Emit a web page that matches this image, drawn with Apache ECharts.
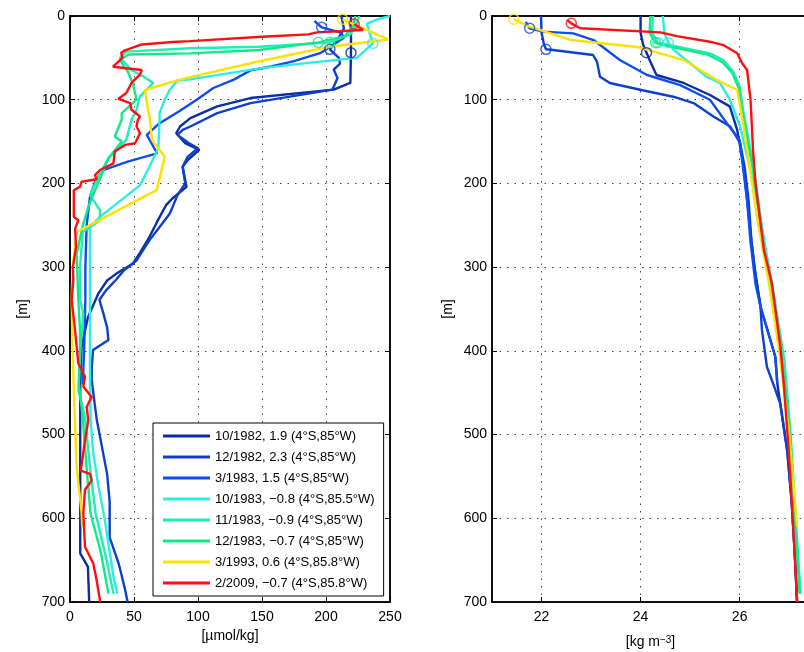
<!DOCTYPE html>
<html>
<head>
<meta charset="utf-8">
<script src="https://cdn.jsdelivr.net/npm/echarts@6/dist/echarts.min.js"></script>
<style>
html, body { margin: 0; padding: 0; background: #fff; }
#chart { width: 804px; height: 652px; }
</style>
</head>
<body>
<div id="chart"></div>
<script>
// legend names, one per cast
const names = [
    '10/1982, 1.9 (4°S,85°W)',
    '12/1982, 2.3 (4°S,85°W)',
    '3/1983, 1.5 (4°S,85°W)',
    '10/1983, −0.8 (4°S,85.5°W)',
    '11/1983, −0.9 (4°S,85°W)',
    '12/1983, −0.7 (4°S,85°W)',
    '3/1993, 0.6 (4°S,85.8°W)',
    '2/2009, −0.7 (4°S,85.8°W)'
]
const colors = ['#0a2ea6', '#0d3fcc', '#0f4df0', '#2aeee6', '#20eeb8', '#12e888', '#ffe100', '#ff1010']

// oxygen profiles [umol/kg, depth m]
const oxyOct82 = [[219.5,0],[219.5,20],[219.5,44],[219,80],[206,88],[141,98],[115,108],[94,122],[86,132],[83,140],[90,152],[101,160],[92,172],[88,180],[91,204],[80,218],[75,226],[68,246],[62,264],[55,282],[49,296],[36,308],[29,316],[22,332],[14,360],[9,395],[8,440],[8,500],[8,560],[8,610],[8,642],[14,658],[15,700]]
const oxyDec82 = [[212,0],[214,15],[210,26],[203,40],[210,50],[211,57],[206,64],[209,74],[205,88],[141,104],[115,116],[94,132],[88,136],[84,142],[93,152],[100,158],[92,168],[88,180],[90,200],[84,214],[78,236],[70,252],[62,268],[52,292],[42,304],[36,315],[28,328],[23,339],[26,355],[29,372],[30,387],[18,399],[17,420],[17,435],[19,460],[21,483],[25,515],[29,547],[31,580],[31,623],[36,645],[38,654],[40,666],[43,685],[45,700]]
const oxyMar83 = [[191,6],[196.6,13.5],[212,20],[214,26],[206,34],[196,44],[175,54],[158,60],[141,65],[128,76],[112,86],[99,100],[85,114],[70,128],[60,142],[63,150],[68,164],[45,174],[26,184],[20,196],[15.6,216],[13,250],[12,300],[12,339],[11,400],[10,440]]
const oxyOct83 = [[250,0],[240,4],[232,9],[234,20],[236.5,32.7],[230,42],[224,50],[186,56],[148,62.5],[94,75.7],[84,77],[78,88],[74,100],[70,116],[70,124],[69,158],[62,180],[54.7,202],[40,220],[23.4,240],[15.6,252],[15.6,300],[15.6,339],[15.6,435],[16,480],[18,520],[22,560],[27,600],[31,640],[34,670],[37,690]]
const oxyNov83 = [[226,0],[224,10],[219,22],[203,31.5],[148,36.7],[94,38.6],[44,42.6],[39,50],[44,58],[48,64.5],[57,72],[65,80],[54.7,96],[52,112],[48,124],[44,148],[30,170],[23.4,188],[15.6,214],[23.4,232],[23.4,244],[10,258],[7.8,300],[7.8,339],[10.4,355],[8,400],[6.5,447],[11.7,479],[15.6,539],[20,594],[28.6,650],[34,690]]
const oxyDec83 = [[223,0],[221,12],[215,24],[194,31.5],[148,40.6],[94,44.6],[46,46],[39,52],[42,60],[45,66],[49,80],[52,100],[40.4,116],[40.4,124],[35,144],[40.4,150],[30,170],[20.8,204],[15,225],[10.4,248],[5.2,284],[6.5,339],[8,380],[7,440],[10,480],[13,540],[16,594],[24,640],[30,690]]
const oxyMar93 = [[213,4],[248.6,28],[203,36.7],[146,54.6],[94,73],[84.6,76.5],[58.6,88.4],[61,112],[62.5,124],[64,148],[74,168],[67.7,208],[5.2,258],[4,276],[2,300],[1.3,339],[2,400],[3.5,470],[5.2,539],[9.1,594],[9.5,610]]
const oxyFeb09 = [[222,9.6],[229,16.7],[193,19.5],[186,22],[150,24.7],[94,30],[80.5,31],[56,34],[43,41],[40,44],[41,50],[33.6,60.6],[56,64.5],[54.7,70],[48,80],[44,92],[37.7,99],[47,104],[48,112],[54.7,120],[53,124],[52,132],[54.7,140],[50.8,152],[43,154],[35,162],[33.9,176],[23.4,184],[19.5,190],[20.8,195],[9,198],[7.8,204],[3,208],[3,240],[6.5,244],[4,254],[4.7,276],[2.3,300],[2.6,315],[1.3,339],[3.9,375],[6.5,415],[11.7,431],[10.4,443],[16.9,455],[13,467],[14.3,483],[11.7,507],[9.6,531],[8.3,543],[15.6,547],[16.9,555],[11.7,566],[10.4,594],[11.7,634],[18.2,654],[20.8,674],[23.6,700]]

// density profiles [kg m-3, depth m]
const sigOct82 = [[24.0,0],[24.0,20],[24.05,34],[24.12,43.8],[24.2,55],[24.32,70.5],[24.87,80],[25.4,94.4],[25.8,108],[25.95,136],[26.08,180],[26.15,220],[26.22,260],[26.3,300],[26.42,347],[26.52,367],[26.72,407],[26.76,439],[26.82,463],[26.96,519],[27.05,580],[27.12,650],[27.16,700]]
const sigDec82 = [[21.99,0],[22.0,20],[22.05,34],[22.09,39.8],[22.23,40.6],[23.04,46.6],[23.12,54.6],[23.18,72.5],[23.38,80],[24.06,89],[24.66,96.4],[25.07,104],[25.47,120],[25.81,132],[26.01,152],[26.1,180],[26.18,220],[26.24,270],[26.32,310],[26.42,347],[26.45,375],[26.55,419],[26.65,435],[26.82,463],[26.96,519],[27.05,580],[27.12,650],[27.16,700]]
const sigMar83 = [[21.68,7],[21.76,14.7],[22.03,18.7],[22.64,20.7],[23.05,28.7],[23.58,52.6],[24.13,70.5],[24.8,82.5],[25.4,100],[25.74,128],[26.0,148],[26.15,220],[26.22,270],[26.32,320],[26.42,347],[26.52,367],[26.72,407],[26.76,439]]
const sigOct83 = [[24.45,0],[24.48,20.7],[24.56,32],[24.67,40.6],[25.0,56.5],[25.33,72.5],[25.6,80],[25.8,100],[26.01,132],[26.2,180],[26.35,220],[26.5,270],[26.65,320],[26.85,400],[27.0,500],[27.1,600],[27.22,690]]
const sigNov83 = [[24.25,0],[24.23,20],[24.35,32],[24.6,35],[25.4,44.6],[25.67,52.6],[25.87,66.5],[26.0,84.5],[26.08,116],[26.28,180],[26.42,240],[26.52,280],[26.68,330],[26.9,410],[27.03,500],[27.13,600],[27.23,690]]
const sigDec83 = [[24.2,0],[24.18,20],[24.3,32],[24.55,36],[25.35,46],[25.65,55],[25.85,68],[25.98,86],[26.06,120],[26.26,180],[26.4,240],[26.5,280],[26.66,330],[26.88,420],[27.02,500],[27.12,600],[27.21,690]]
const sigMar93 = [[21.44,4],[21.76,12.7],[22.6,28.7],[23.97,37.4],[24.87,52.6],[25.54,76.5],[25.95,88.4],[26.08,132],[26.2,180],[26.3,220],[26.35,240],[26.59,319],[26.8,400],[27.0,500],[27.16,610]]
const sigFeb09 = [[22.52,5],[22.6,8.8],[22.78,14.7],[24.4,19.5],[24.73,24],[25.4,30.7],[25.67,34.7],[25.95,44.6],[26.05,56.5],[26.15,64.5],[26.22,100],[26.27,160],[26.32,200],[26.49,280],[26.65,319],[26.82,394],[26.89,439],[26.99,519],[27.09,618],[27.16,700]]

// mixed layer markers (circles)
const oxyMld = [[219.5,43.8],[203,39.8],[196.6,13.5],[236.5,32.7],[203,31.5],[194,31.5],[213,4],[222,9.6]]
const sigMld = [[24.12,43.8],[22.09,39.8],[21.76,14.7],[24.56,32],[24.35,32],[24.3,32],[21.44,4],[22.6,8.8]]

const sigTicks = [22, 24, 26]

const oxyData = [oxyOct82, oxyDec82, oxyMar83, oxyOct83, oxyNov83, oxyDec83, oxyMar93, oxyFeb09]
const sigData = [sigOct82, sigDec82, sigMar83, sigOct83, sigNov83, sigDec83, sigMar93, sigFeb09]

const font = 'Liberation Sans, Arial, Helvetica, sans-serif'
const txt = { fontFamily: font, fontSize: 14, color: '#000' }
const axLine = () => ({ show: true, onZero: false, lineStyle: { color: '#000', width: 1.5 } })
const tickIn = () => ({ show: true, inside: true, length: 5, lineStyle: { color: '#000', width: 1 } })
const dots = () => ({ show: true, lineStyle: { color: '#444', type: [1.5, 6], width: 1 } })

let myCharts = echarts.init(document.getElementById('chart'))

const series = []
names.forEach((n, i) => {
    series.push({
        name: n, type: 'line', xAxisIndex: 0, yAxisIndex: 0,
        data: oxyData[i], showSymbol: false, symbol: 'none', z: 3 + i,
        lineStyle: { color: colors[i], width: 2.4 },
        itemStyle: { color: colors[i] }
    })
    series.push({
        name: n, type: 'line', xAxisIndex: 2, yAxisIndex: 2,
        data: sigData[i], showSymbol: false, symbol: 'none', z: 3 + i,
        lineStyle: { color: colors[i], width: 2.4 },
        itemStyle: { color: colors[i] }
    })
})
names.forEach((n, i) => {
    series.push({
        name: n + ' mld', type: 'scatter', xAxisIndex: 0, yAxisIndex: 0,
        data: [oxyMld[i]], symbol: 'circle', symbolSize: 10, z: 20,
        itemStyle: { color: 'rgba(0,0,0,0)', borderColor: colors[i], borderWidth: 1.5 }
    })
    series.push({
        name: n + ' mld', type: 'scatter', xAxisIndex: 2, yAxisIndex: 2,
        data: [sigMld[i]], symbol: 'circle', symbolSize: 10, z: 20,
        itemStyle: { color: 'rgba(0,0,0,0)', borderColor: colors[i], borderWidth: 1.5 }
    })
})

const option = {
    animation: false,
    backgroundColor: '#fff',
    grid: [
        { left: 70, right: 414, top: 16, bottom: 50, outerBoundsMode: 'none',
          show: true, borderColor: '#000', borderWidth: 1.5, backgroundColor: 'rgba(0,0,0,0)' },
        { left: 492, right: -5, top: 16, bottom: 50, outerBoundsMode: 'none',
          show: true, borderColor: '#000', borderWidth: 1.5, backgroundColor: 'rgba(0,0,0,0)' }
    ],
    legend: {
        data: names,
        orient: 'vertical',
        left: 153,
        top: 423,
        padding: [6, 9, 6, 10],
        icon: 'rect',
        itemWidth: 47,
        itemHeight: 3,
        itemGap: 7,
        backgroundColor: '#fff',
        borderColor: '#000',
        borderWidth: 1,
        textStyle: { fontFamily: font, fontSize: 13, color: '#000', lineHeight: 14 },
        z: 30
    },
    xAxis: [
        {
            gridIndex: 0, type: 'value', position: 'bottom', min: 0, max: 250, interval: 50,
            axisLine: axLine(), axisTick: tickIn(), splitLine: dots(),
            axisLabel: { ...txt, margin: 8 },
            name: '[µmol/kg]', nameLocation: 'middle', nameGap: 27, nameTextStyle: txt
        },
        {
            gridIndex: 0, type: 'value', position: 'top', min: 0, max: 250, interval: 50,
            axisLine: axLine(), axisTick: tickIn(), axisLabel: { show: false }, splitLine: { show: false }
        },
        {
            gridIndex: 1, type: 'value', position: 'bottom', min: 21, max: 27.4,
            axisLine: axLine(),
            axisTick: { ...tickIn(), customValues: sigTicks },
            splitLine: dots(),
            axisLabel: { ...txt, margin: 8, customValues: sigTicks },
            name: '{n|[kg m}{s|−3}{n|]}', nameLocation: 'middle', nameGap: 20,
            nameTextStyle: {
                ...txt,
                rich: {
                    n: { fontFamily: font, fontSize: 14, color: '#000', lineHeight: 14, verticalAlign: 'bottom', padding: [6, 0, 0, 0] },
                    s: { fontFamily: font, fontSize: 10, color: '#000', lineHeight: 10, verticalAlign: 'top' }
                }
            }
        },
        {
            gridIndex: 1, type: 'value', position: 'top', min: 21, max: 27.4,
            axisLine: axLine(), axisTick: { ...tickIn(), customValues: sigTicks },
            axisLabel: { show: false }, splitLine: { show: false }
        }
    ],
    yAxis: [
        {
            gridIndex: 0, type: 'value', position: 'left', inverse: true, min: 0, max: 700, interval: 100,
            axisLine: axLine(), axisTick: tickIn(), splitLine: dots(),
            axisLabel: { ...txt, margin: 5 },
            name: '[m]', nameLocation: 'middle', nameGap: 40, nameTextStyle: txt
        },
        {
            gridIndex: 0, type: 'value', position: 'right', inverse: true, min: 0, max: 700, interval: 100,
            axisLine: axLine(), axisTick: tickIn(), axisLabel: { show: false }, splitLine: { show: false }
        },
        {
            gridIndex: 1, type: 'value', position: 'left', inverse: true, min: 0, max: 700, interval: 100,
            axisLine: axLine(), axisTick: tickIn(), splitLine: dots(),
            axisLabel: { ...txt, margin: 5 },
            name: '[m]', nameLocation: 'middle', nameGap: 37, nameTextStyle: txt
        }
    ],
    series: series
}

myCharts.setOption(option)
</script>
</body>
</html>
